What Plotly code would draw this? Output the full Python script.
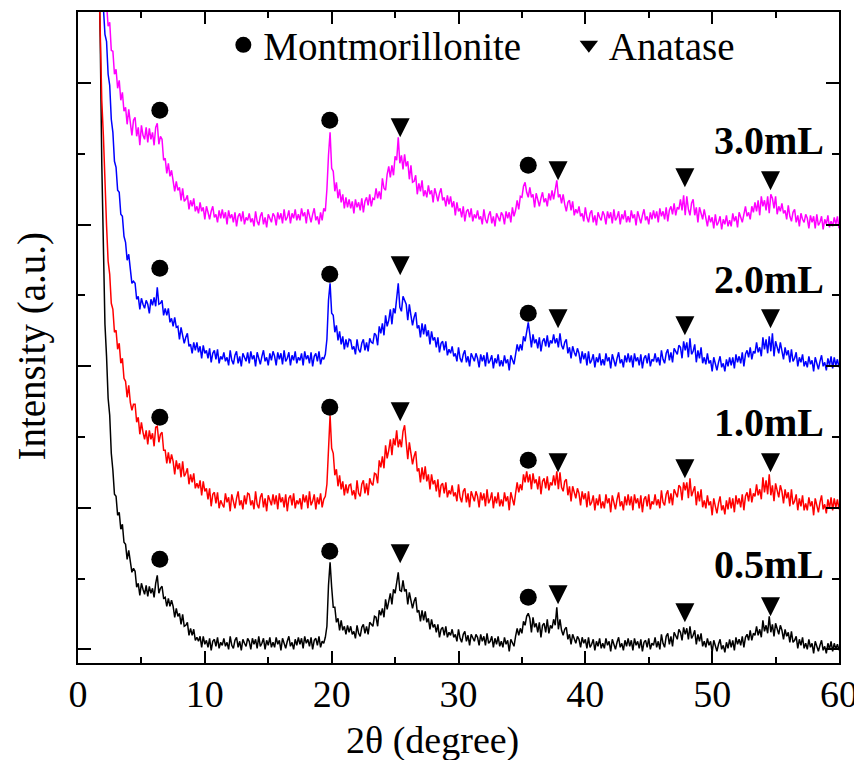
import numpy as np
import plotly.graph_objects as go

# ---------------- data ----------------
scan_start, scan_stop, scan_step = 1.5, 60.0, 0.125
two_theta = np.round(np.arange(scan_start, scan_stop + 1e-9, scan_step), 3)

# intensities (a.u., stacked with offsets as in the figure), 16 points per 2 degrees
int_05 = [
    780, 700, 612, 486, 393, 325, 293, 251, 234, 196, 179, 155, 153, 134, 137, 120,
    125, 107, 105, 90, 99, 85, 77, 81, 78, 62, 66, 54, 66, 60, 55, 64,
    53, 63, 56, 61, 52, 66, 74, 56, 61, 63, 51, 52, 43, 51, 43, 49,
    43, 32, 41, 33, 36, 25, 35, 23, 24, 27, 14, 21, 14, 20, 9, 12,
    8, 13, 2, 13, 5, 9, 2, 11, -1, 8, 10, 3, 12, 1, 7, 4,
    11, 3, 7, 0, 13, 4, 1, 9, 12, 2, 8, -1, 10, 6, 3, 11,
    8, 0, 11, 5, 10, 1, 13, 3, 6, 11, 0, 9, 4, 12, 2, 7,
    2, 12, 5, 9, -1, 11, 6, 1, 8, 13, 3, 7, 0, 10, 4, 12,
    5, 11, 1, 13, 6, 10, 3, 12, 0, 9, 11, 4, 13, 2, 8, 6,
    12, 23, 64, 87, 62, 42, 42, 27, 31, 19, 29, 19, 23, 15, 24, 17,
    23, 15, 18, 11, 24, 16, 13, 22, 25, 16, 23, 15, 27, 25, 23, 33,
    32, 23, 39, 34, 41, 32, 50, 40, 47, 56, 45, 60, 56, 69, 77, 59,
    58, 69, 58, 60, 45, 57, 49, 41, 48, 52, 37, 39, 28, 39, 29, 38,
    27, 31, 20, 30, 22, 25, 17, 25, 12, 20, 22, 14, 23, 12, 17, 14,
    20, 12, 15, 8, 20, 11, 7, 15, 18, 8, 14, 4, 15, 11, 8, 15,
    12, 4, 15, 8, 13, 4, 16, 6, 8, 13, 2, 11, 5, 13, 3, 8,
    2, 12, 5, 9, -2, 10, 6, 3, 13, 21, 14, 21, 16, 28, 24, 33,
    36, 31, 17, 32, 22, 26, 17, 27, 12, 24, 26, 17, 30, 16, 24, 21,
    30, 24, 42, 20, 30, 19, 14, 20, 22, 10, 15, 5, 15, 10, 6, 13,
    10, 2, 12, 6, 10, 1, 12, 2, 5, 10, -1, 8, 3, 11, 1, 6,
    1, 11, 4, 8, -2, 10, 5, 0, 7, 12, 2, 6, -1, 9, 3, 11,
    3, 9, -1, 11, 4, 8, 1, 10, -2, 7, 9, 2, 11, 0, 6, 4,
    12, 2, 8, 0, 15, 6, 2, 13, 16, 5, 13, 3, 17, 13, 10, 20,
    17, 9, 22, 15, 21, 10, 23, 11, 14, 19, 5, 15, 8, 16, 3, 8,
    2, 11, 4, 8, -3, 9, 3, -2, 5, 10, 0, 4, -3, 7, 1, 10,
    2, 9, -1, 12, 5, 10, 4, 13, 2, 12, 15, 9, 19, 9, 16, 14,
    23, 14, 20, 12, 29, 18, 24, 16, 33, 17, 25, 13, 26, 20, 15, 24,
    19, 10, 20, 13, 17, 7, 18, 7, 9, 13, 1, 10, 4, 12, 1, 6,
    0, 10, 2, 6, -4, 8, 3, -2, 4, 9, -1, 3, -4, 6, 0, 8,
    -2, 6, 0, 5, -1]

int_10 = [
    760, 680, 603, 549, 514, 460, 424, 388, 375, 346, 340, 317, 319, 300, 306, 286,
    291, 271, 268, 252, 264, 247, 239, 245, 245, 227, 232, 215, 227, 217, 210, 219,
    205, 219, 210, 216, 203, 222, 223, 207, 215, 217, 199, 199, 186, 197, 186, 195,
    188, 175, 189, 180, 186, 172, 188, 173, 176, 181, 165, 175, 167, 176, 161, 166,
    161, 169, 154, 168, 158, 161, 150, 161, 143, 155, 157, 146, 157, 141, 149, 145,
    142, 156, 147, 152, 138, 155, 148, 141, 151, 158, 144, 149, 140, 154, 145, 156,
    155, 144, 149, 140, 158, 145, 141, 152, 156, 142, 151, 138, 154, 148, 144, 155,
    145, 154, 140, 156, 147, 152, 142, 155, 138, 151, 154, 144, 156, 141, 149, 145,
    151, 140, 155, 147, 154, 141, 158, 144, 148, 155, 140, 152, 145, 156, 142, 150,
    153, 165, 209, 234, 201, 196, 174, 180, 163, 174, 160, 168, 154, 165, 156, 164,
    165, 154, 159, 150, 169, 156, 153, 165, 169, 156, 166, 154, 171, 166, 164, 176,
    175, 166, 189, 182, 193, 181, 204, 191, 199, 210, 194, 211, 204, 219, 202, 210,
    202, 218, 224, 210, 190, 207, 196, 185, 193, 198, 178, 181, 167, 182, 170, 183,
    168, 175, 160, 175, 165, 169, 158, 170, 152, 164, 166, 156, 167, 152, 159, 155,
    164, 153, 157, 148, 165, 152, 147, 158, 161, 147, 156, 142, 158, 152, 148, 158,
    153, 142, 157, 149, 156, 143, 160, 146, 150, 157, 141, 153, 146, 157, 143, 150,
    143, 157, 148, 153, 139, 157, 150, 144, 156, 167, 157, 165, 159, 175, 167, 178,
    167, 175, 160, 176, 166, 170, 160, 173, 155, 168, 171, 161, 173, 159, 167, 164,
    174, 164, 178, 160, 177, 162, 158, 168, 170, 154, 163, 148, 163, 156, 151, 161,
    156, 144, 158, 150, 156, 142, 158, 144, 147, 154, 139, 151, 144, 155, 141, 148,
    141, 155, 146, 151, 137, 154, 147, 140, 150, 157, 143, 148, 139, 153, 144, 155,
    144, 153, 139, 155, 146, 151, 141, 154, 137, 150, 153, 143, 155, 140, 148, 145,
    155, 144, 150, 141, 159, 147, 144, 155, 159, 146, 156, 144, 160, 155, 152, 164,
    162, 149, 167, 159, 167, 151, 171, 153, 157, 163, 144, 158, 148, 160, 142, 149,
    141, 154, 144, 148, 134, 151, 143, 136, 146, 153, 139, 144, 135, 149, 140, 152,
    141, 151, 137, 154, 145, 151, 142, 155, 139, 153, 157, 148, 161, 147, 156, 153,
    165, 154, 160, 150, 172, 157, 169, 155, 175, 154, 164, 148, 166, 158, 152, 164,
    158, 146, 160, 151, 157, 143, 160, 145, 148, 155, 139, 151, 143, 154, 139, 146,
    139, 152, 143, 148, 134, 151, 144, 137, 147, 154, 140, 145, 136, 150, 141, 152,
    139, 151, 142, 150, 140]

int_20 = [
    850, 770, 692, 659, 642, 615, 608, 575, 564, 530, 517, 488, 482, 459, 457, 435,
    433, 413, 407, 389, 395, 377, 366, 368, 366, 350, 353, 340, 351, 345, 341, 349,
    345, 336, 350, 344, 352, 343, 362, 345, 346, 349, 334, 341, 334, 341, 327, 331,
    323, 332, 322, 323, 310, 322, 314, 306, 312, 316, 303, 305, 296, 307, 299, 307,
    297, 303, 291, 304, 296, 299, 291, 301, 287, 296, 299, 290, 300, 286, 293, 290,
    297, 288, 292, 284, 299, 289, 285, 294, 298, 286, 293, 283, 296, 291, 288, 297,
    286, 298, 290, 294, 283, 297, 291, 285, 293, 299, 288, 292, 284, 296, 289, 298,
    293, 284, 297, 290, 296, 285, 299, 288, 291, 297, 284, 294, 289, 298, 286, 292,
    289, 296, 284, 298, 290, 294, 286, 297, 283, 293, 296, 288, 298, 285, 292, 290,
    295, 310, 349, 366, 336, 334, 317, 324, 309, 318, 305, 313, 300, 310, 302, 310,
    309, 300, 303, 295, 310, 300, 297, 306, 310, 299, 307, 298, 311, 307, 306, 316,
    314, 304, 323, 316, 326, 314, 334, 323, 329, 340, 325, 341, 336, 350, 366, 342,
    338, 353, 349, 345, 329, 345, 334, 324, 332, 337, 321, 324, 312, 326, 315, 325,
    313, 319, 305, 318, 309, 312, 302, 312, 297, 306, 308, 299, 308, 294, 300, 296,
    303, 293, 296, 288, 302, 291, 287, 295, 299, 287, 293, 283, 296, 291, 288, 296,
    291, 282, 295, 288, 294, 283, 297, 286, 289, 294, 281, 291, 286, 295, 283, 289,
    283, 294, 286, 290, 279, 294, 289, 285, 295, 305, 298, 305, 299, 313, 308, 318,
    327, 315, 302, 315, 306, 310, 301, 312, 298, 308, 311, 303, 314, 302, 309, 306,
    315, 306, 311, 302, 316, 304, 300, 307, 310, 296, 302, 291, 303, 297, 293, 301,
    296, 286, 298, 290, 296, 284, 298, 286, 289, 295, 282, 292, 287, 296, 284, 290,
    284, 296, 288, 292, 281, 295, 289, 283, 291, 297, 286, 290, 282, 294, 287, 296,
    287, 294, 282, 296, 288, 292, 284, 295, 281, 291, 294, 286, 296, 283, 290, 288,
    296, 287, 292, 284, 299, 290, 286, 296, 300, 289, 297, 287, 301, 297, 295, 304,
    302, 291, 308, 299, 307, 292, 311, 295, 298, 305, 287, 299, 291, 302, 286, 292,
    285, 296, 286, 289, 278, 292, 285, 279, 287, 293, 282, 286, 278, 290, 283, 292,
    284, 292, 281, 295, 287, 293, 286, 297, 283, 295, 299, 292, 302, 290, 298, 296,
    307, 297, 302, 293, 312, 300, 310, 296, 313, 298, 316, 293, 308, 301, 296, 307,
    300, 290, 302, 294, 299, 287, 300, 288, 291, 297, 283, 292, 287, 295, 283, 288,
    282, 293, 285, 289, 278, 292, 286, 280, 288, 294, 283, 287, 279, 291, 284, 293,
    281, 292, 284, 290, 282]

int_30 = [
    900, 815, 729, 699, 685, 654, 646, 623, 627, 599, 598, 575, 580, 561, 569, 549,
    557, 538, 542, 525, 540, 524, 514, 529, 532, 513, 522, 504, 524, 514, 510, 522,
    507, 521, 510, 517, 504, 522, 526, 505, 513, 510, 489, 491, 476, 486, 473, 479,
    470, 458, 468, 459, 462, 449, 461, 448, 450, 454, 440, 449, 443, 451, 438, 443,
    436, 447, 438, 442, 430, 443, 437, 430, 438, 443, 432, 435, 427, 439, 431, 440,
    431, 437, 425, 439, 431, 435, 427, 437, 423, 433, 436, 428, 438, 425, 432, 429,
    436, 427, 431, 423, 438, 428, 424, 433, 437, 425, 432, 422, 435, 430, 427, 436,
    433, 424, 437, 430, 436, 426, 440, 429, 432, 439, 426, 436, 431, 440, 429, 435,
    429, 441, 433, 437, 426, 440, 434, 427, 435, 441, 429, 433, 425, 437, 429, 441,
    438, 460, 494, 517, 481, 478, 458, 467, 451, 460, 447, 455, 441, 452, 442, 450,
    441, 448, 436, 450, 442, 447, 439, 451, 437, 448, 452, 444, 455, 443, 451, 450,
    461, 451, 458, 450, 471, 461, 459, 475, 483, 472, 484, 474, 493, 489, 512, 486,
    494, 480, 495, 483, 488, 470, 484, 467, 468, 474, 455, 466, 458, 469, 453, 459,
    452, 464, 455, 459, 447, 461, 455, 448, 456, 461, 449, 452, 443, 454, 445, 453,
    442, 448, 434, 447, 438, 441, 432, 443, 428, 438, 440, 432, 441, 428, 435, 431,
    439, 430, 433, 425, 440, 430, 426, 434, 438, 426, 433, 423, 436, 431, 428, 437,
    434, 425, 438, 431, 437, 427, 442, 433, 439, 449, 440, 453, 452, 463, 467, 457,
    452, 462, 452, 455, 442, 456, 450, 443, 451, 457, 447, 451, 443, 456, 449, 459,
    450, 458, 469, 452, 455, 446, 455, 445, 438, 447, 449, 439, 448, 434, 440, 436,
    443, 433, 436, 428, 442, 432, 427, 436, 439, 427, 434, 424, 437, 432, 429, 438,
    434, 425, 438, 431, 437, 426, 440, 429, 432, 438, 425, 435, 430, 439, 427, 433,
    427, 439, 431, 435, 424, 438, 432, 426, 434, 440, 429, 433, 425, 437, 430, 439,
    431, 438, 427, 441, 433, 438, 430, 442, 428, 439, 443, 435, 446, 434, 442, 440,
    450, 439, 454, 434, 453, 440, 434, 446, 450, 434, 442, 427, 442, 435, 430, 440,
    433, 423, 434, 427, 432, 421, 435, 424, 427, 433, 420, 430, 425, 434, 423, 429,
    423, 436, 428, 433, 422, 437, 432, 427, 435, 443, 433, 437, 430, 443, 437, 447,
    438, 449, 434, 453, 443, 449, 439, 453, 436, 455, 451, 441, 453, 435, 443, 438,
    446, 436, 439, 430, 444, 433, 428, 437, 440, 427, 434, 423, 436, 430, 427, 435,
    431, 421, 434, 427, 433, 421, 435, 424, 427, 433, 420, 430, 425, 434, 422, 428,
    423, 432, 425, 433, 421]

sample_names = ["0.5mL", "1.0mL", "2.0mL", "3.0mL"]
sample_colors = ["#000000", "#FF0000", "#0000FF", "#FF00FF"]

# peak markers (2theta positions and marker heights for each pattern)
mont_peaks = [6.45, 19.85, 35.5]
anat_peaks = [25.4, 37.85, 47.85, 54.6]
mont_05 = [90, 98, 52]
mont_10 = [232, 242, 189]
mont_20 = [381, 375, 336]
mont_30 = [539, 529, 484]
anat_05 = [86, 45, 27, 33]
anat_10 = [228, 177, 171, 177]
anat_20 = [374, 321, 314, 321]
anat_30 = [512, 469, 462, 459]

legend_names = ["Montmorillonite", "Anatase"]

# ---------------- figure ----------------
FONT = '"Liberation Serif", "Times New Roman", Times, serif'
fig = go.Figure()

patterns = [int_05, int_10, int_20, int_30]
monts = [mont_05, mont_10, mont_20, mont_30]
anats = [anat_05, anat_10, anat_20, anat_30]

for name, col, yv in zip(sample_names, sample_colors, patterns):
    if len(yv) != len(two_theta):
        print("length mismatch", name, len(yv), len(two_theta))
    fig.add_trace(go.Scatter(x=two_theta[:len(yv)], y=yv, mode="lines", name=name,
                             line=dict(color=col, width=1.5), showlegend=False,
                             hoverinfo="skip"))

for mv, av in zip(monts, anats):
    fig.add_trace(go.Scatter(x=mont_peaks, y=mv, mode="markers", showlegend=False,
                             marker=dict(symbol="circle", size=17, color="black",
                                         line=dict(width=0)), cliponaxis=False))
    fig.add_trace(go.Scatter(x=anat_peaks, y=av, mode="markers", showlegend=False,
                             marker=dict(symbol="arrow-down", size=19, color="black",
                                         line=dict(width=0)), cliponaxis=False))

# legend entries (two separate legends so each can be placed like the original key)
fig.add_trace(go.Scatter(x=[None], y=[None], mode="markers", name=legend_names[0],
                         legend="legend",
                         marker=dict(symbol="circle", size=16, color="black")))
fig.add_trace(go.Scatter(x=[None], y=[None], mode="markers", name=legend_names[1],
                         legend="legend2",
                         marker=dict(symbol="triangle-down", size=16, color="black")))

annotations = []
label_y = [85, 227, 370, 509]
for name, ly in zip(sample_names, label_y):
    annotations.append(dict(x=59.0, y=ly, xref="x", yref="y", text="<b>%s</b>" % name,
                            showarrow=False, xanchor="right", yanchor="middle",
                            font=dict(family=FONT, size=40, color="black")))
annotations.append(dict(x=0.4655, y=-0.119, xref="paper", yref="paper",
                        text="2θ (degree)", showarrow=False, xanchor="center",
                        yanchor="middle", font=dict(family=FONT, size=38, color="black")))
annotations.append(dict(x=-0.061, y=0.487, xref="paper", yref="paper",
                        text="Intensity (a.u.)", showarrow=False, textangle=-90,
                        xanchor="center", yanchor="middle",
                        font=dict(family=FONT, size=39, color="black")))

axis_common = dict(showline=True, linecolor="black", linewidth=2, mirror="allticks",
                   ticks="inside", tickcolor="black", tickwidth=2, showgrid=False,
                   zeroline=False, automargin=False)

legend_common = dict(orientation="h", xanchor="left", yanchor="top",
                     font=dict(family=FONT, size=39, color="black"),
                     bgcolor="rgba(0,0,0,0)", borderwidth=0, itemclick=False)

# the page body adds an 8 px offset, so the figure is sized to fill the rest of the window
fig.update_layout(
    width=854, height=752,
    margin=dict(l=70, r=23, t=4, b=97, autoexpand=False),
    paper_bgcolor="white", plot_bgcolor="white",
    font=dict(family=FONT, color="black"),
    showlegend=True,
    legend=dict(x=0.191, y=0.9985, **legend_common),
    legend2=dict(x=0.645, y=0.9985, **legend_common),
    annotations=annotations,
    xaxis=dict(range=[0, 60], tick0=0, dtick=10, ticklen=12, ticklabelstandoff=-4,
               tickfont=dict(family=FONT, size=38, color="black"),
               minor=dict(dtick=5, ticklen=6, ticks="inside", tickcolor="black", tickwidth=2),
               **axis_common),
    yaxis=dict(range=[-13.7, 637.3], tick0=0, dtick=141.6, ticklen=13,
               showticklabels=False,
               minor=dict(dtick=70.8, ticklen=7, ticks="inside", tickcolor="black", tickwidth=2),
               **axis_common),
)

print(len(two_theta), len(int_05), len(int_10), len(int_20), len(int_30))
fig.write_html("out.html")
